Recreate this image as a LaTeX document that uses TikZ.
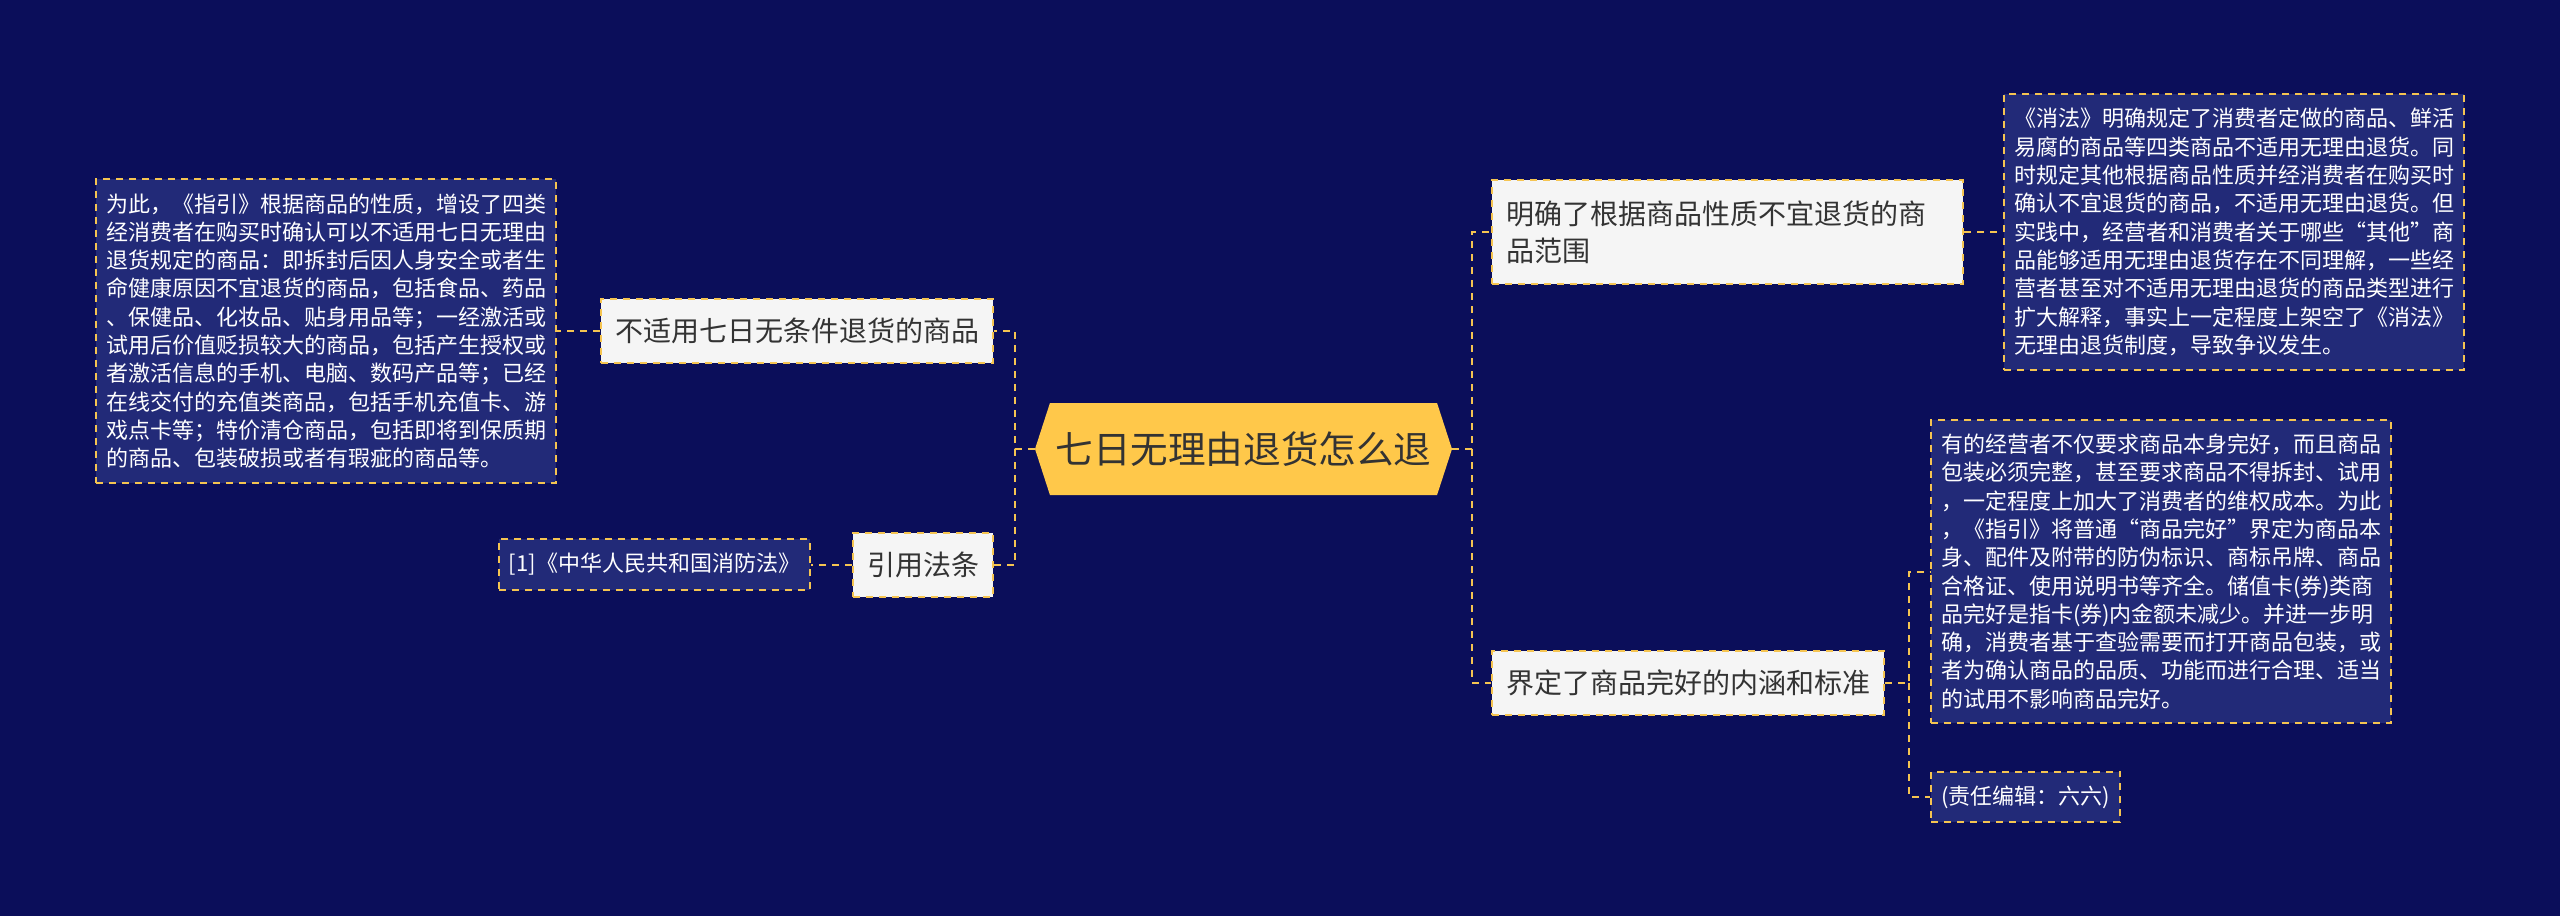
\documentclass[tikz,border=0pt]{standalone}
\usepackage{fontspec}
\setmainfont{Noto Sans CJK SC}
\usetikzlibrary{shapes.symbols}

\definecolor{hintergrund}{HTML}{0B0E5A}
\definecolor{blattblau}{HTML}{222A78}
\definecolor{gelb}{HTML}{F5C451}
\definecolor{wurzelgelb}{HTML}{FFC84A}
\definecolor{astgrau}{HTML}{F5F5F5}
\definecolor{schrift}{HTML}{333333}

\tikzset{
    wurzel/.style={signal, signal to=west and east, signal pointer angle=144, fill=wurzelgelb, text=schrift, minimum width=208.5pt, minimum height=46pt, inner sep=0pt, font=\fontsize{18.8}{22}\selectfont},
    ast/.style={rectangle, draw=gelb, line width=1pt, dash pattern=on 3.5pt off 3pt, fill=astgrau, text=schrift, align=left, inner xsep=7pt, inner ysep=8.5pt, minimum height=32pt, font=\fontsize{14}{18.3}\selectfont},
    blatt/.style={rectangle, draw=gelb, line width=1pt, dash pattern=on 3.5pt off 3pt, fill=blattblau, text=white, align=left, inner xsep=5pt, inner ysep=7pt, minimum height=25pt, font=\fontsize{11}{14.15}\selectfont},
    linie/.style={draw=gelb, line width=1pt, dash pattern=on 3.5pt off 3pt}
}

\begin{document}
\begin{tikzpicture}[x=0.5pt, y=-0.5pt]
    \fill[hintergrund] (0,0) rectangle (2560,916);
    \useasboundingbox (0,0) rectangle (2560,916);

    % Mitte
    \node[wurzel] (mitte) at (1243.5,449) {七日无理由退货怎么退};

    % linke Seite
    \node[ast, anchor=east] (nicht) at (994,331) {不适用七日无条件退货的商品};
    \node[ast, anchor=east] (recht) at (994,564.5) {引用法条};
    \node[blatt, anchor=east] (nichttext) at (557,331) {为此，《指引》根据商品的性质，增设了四类\\经消费者在购买时确认可以不适用七日无理由\\退货规定的商品：即拆封后因人身安全或者生\\命健康原因不宜退货的商品，包括食品、药品\\、保健品、化妆品、贴身用品等；一经激活或\\试用后价值贬损较大的商品，包括产生授权或\\者激活信息的手机、电脑、数码产品等；已经\\在线交付的充值类商品，包括手机充值卡、游\\戏点卡等；特价清仓商品，包括即将到保质期\\的商品、包装破损或者有瑕疵的商品等。};
    \node[blatt, anchor=east] (gesetz) at (811,564.5) {[1]《中华人民共和国消防法》};

    % rechte Seite
    \node[ast, anchor=west, text width=221.5pt, minimum height=52pt] (umfang) at (1491,232) {明确了根据商品性质不宜退货的商\\品范围};
    \node[ast, anchor=west] (zustand) at (1491,683) {界定了商品完好的内涵和标准};
    \node[blatt, anchor=west] (umfangtext) at (2003,232) {《消法》明确规定了消费者定做的商品、鲜活\\易腐的商品等四类商品不适用无理由退货。同\\时规定其他根据商品性质并经消费者在购买时\\确认不宜退货的商品，不适用无理由退货。但\\实践中，经营者和消费者关于哪些“其他”商\\品能够适用无理由退货存在不同理解，一些经\\营者甚至对不适用无理由退货的商品类型进行\\扩大解释，事实上一定程度上架空了《消法》\\无理由退货制度，导致争议发生。};
    \node[blatt, anchor=west] (zustandtext) at (1930,571.5) {有的经营者不仅要求商品本身完好，而且商品\\包装必须完整，甚至要求商品不得拆封、试用\\，一定程度上加大了消费者的维权成本。为此\\，《指引》将普通“商品完好”界定为商品本\\身、配件及附带的防伪标识、商标吊牌、商品\\合格证、使用说明书等齐全。储值卡(券)类商\\品完好是指卡(券)内金额未减少。并进一步明\\确，消费者基于查验需要而打开商品包装，或\\者为确认商品的品质、功能而进行合理、适当\\的试用不影响商品完好。};
    \node[blatt, anchor=west] (redakteur) at (1930,797) {(责任编辑：六六)};

    \coordinate (links) at (1015,449);
    \coordinate (rechts) at (1472,449);
    \coordinate (zweig) at (1909,683);

    \draw[linie] (mitte.west) -- (links) |- (nicht.east);
    \draw[linie] (links) |- (recht.east);
    \draw[linie] (nicht.west) -- (nichttext.east);
    \draw[linie] (recht.west) -- (gesetz.east);
    \draw[linie] (mitte.east) -- (rechts) |- (umfang.west);
    \draw[linie] (rechts) |- (zustand.west);
    \draw[linie] (umfang.east) -- (umfangtext.west);
    \draw[linie] (zustand.east) -- (zweig) |- (zustandtext.west);
    \draw[linie] (zweig) |- (redakteur.west);
\end{tikzpicture}
\end{document}
